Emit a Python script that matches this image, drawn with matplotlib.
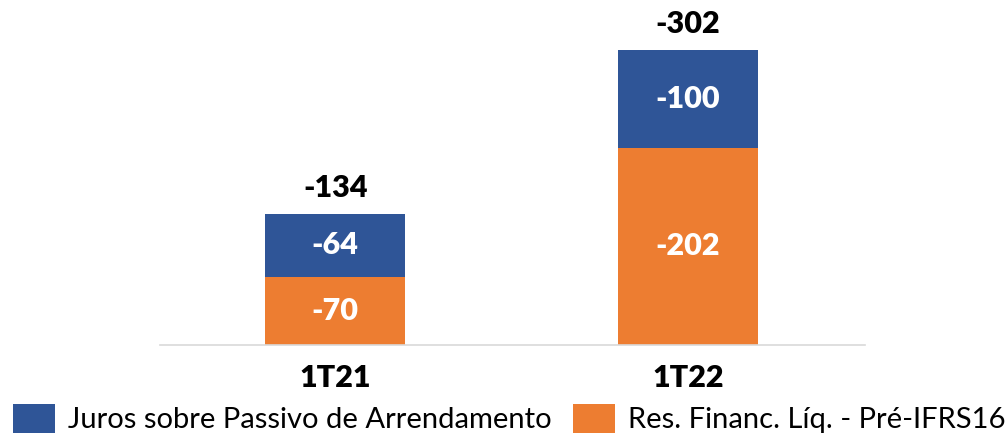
import matplotlib.pyplot as plt
import numpy as np

# quarters and the two stacked components (R$ mn, shown as negatives)
quarters = ["1T21", "1T22"]
res_financ = [-70, -202]      # Res. Financ. Líq. - Pré-IFRS16
juros_arrend = [-64, -100]    # Juros sobre Passivo de Arrendamento
totals = [-134, -302]

blue = "#2F5597"
orange = "#ED7D31"

plt.rcParams['font.family'] = ['Lato', 'DejaVu Sans']

fig = plt.figure(figsize=(10.08, 4.36), dpi=100)
ax = fig.add_axes([0.159, 0.2087, 0.699, 0.717])

x = np.arange(len(quarters))
low = np.abs(res_financ)
high = np.abs(juros_arrend)

b1 = ax.bar(x, low, width=0.397, color=orange, label="Res. Financ. Líq. - Pré-IFRS16")
b2 = ax.bar(x, high, bottom=low, width=0.397, color=blue, label="Juros sobre Passivo de Arrendamento")

# values inside the bars
for i in range(len(x)):
    ax.text(x[i], low[i] / 2, str(res_financ[i]), ha='center', va='center',
            color='white', fontsize=22, fontweight='heavy')
    ax.text(x[i], low[i] + high[i] / 2, str(juros_arrend[i]), ha='center', va='center',
            color='white', fontsize=22, fontweight='heavy')
    ax.text(x[i], low[i] + high[i] + 12, str(totals[i]), ha='center', va='bottom',
            color='black', fontsize=22, fontweight='heavy')

ax.set_xlim(-0.496, 1.501)
ax.set_ylim(0, 320)
ax.set_xticks(x)
ax.set_xticklabels(quarters, fontsize=22, fontweight='heavy')
ax.tick_params(axis='x', length=0, pad=14)
ax.set_yticks([])
for s in ['top', 'right', 'left']:
    ax.spines[s].set_visible(False)
ax.spines['bottom'].set_color('#D9D9D9')
ax.spines['bottom'].set_linewidth(1.2)

fig.legend(handles=[b2, b1], loc='lower left', bbox_to_anchor=(0.001, -0.02), ncol=2,
           frameon=False, fontsize=21, handlelength=1.45, handleheight=1.15,
           handletextpad=0.45, columnspacing=0.72, borderaxespad=0)

fig.savefig("out.png", dpi=100)
